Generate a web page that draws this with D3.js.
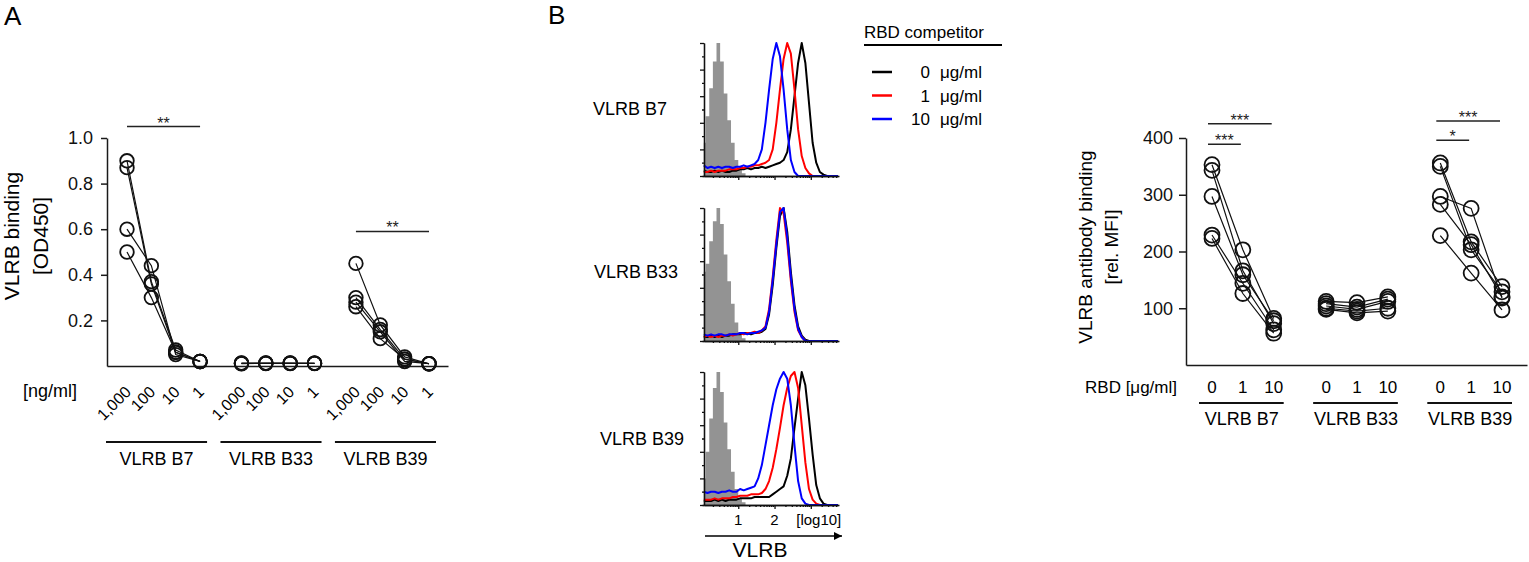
<!DOCTYPE html>
<html>
<head>
<meta charset="utf-8">
<script src="https://cdnjs.cloudflare.com/ajax/libs/d3/7.8.5/d3.min.js"></script>
<style>
    body { margin: 0; background: #fff; }
    svg { display: block; font-family: "Liberation Sans", Arial, sans-serif; }
    .axis path, .axis line { stroke: #1a1a1a; stroke-width: 1.5; }
    .axis text { font-size: 18px; fill: #111; font-family: "Liberation Sans", Arial, sans-serif; }
    .haxis path, .haxis line { stroke: #111; stroke-width: 1.3; }
    .pt { fill: none; stroke: #111; stroke-width: 1.8; }
    .link { fill: none; stroke: #111; stroke-width: 1.2; }
    .sig line { stroke: #222; stroke-width: 1.5; }
    .sig text { font-size: 16px; text-anchor: middle; fill: #222; }
</style>
</head>
<body>
<svg id="fig" width="1529" height="562"></svg>
<script>
// ---- data ----
var groups = ["VLRB B7", "VLRB B33", "VLRB B39"];

// panel A : ELISA, one row per replicate, columns = concentrations
var elisaConc = ["1,000", "100", "10", "1"];
var elisaB7  = [[0.90, 0.37, 0.07, 0.02], [0.87, 0.36, 0.06, 0.02], [0.60, 0.44, 0.05, 0.02], [0.50, 0.30, 0.06, 0.02]];
var elisaB33 = [[0.012, 0.012, 0.012, 0.012], [0.010, 0.013, 0.011, 0.012], [0.013, 0.011, 0.012, 0.011], [0.011, 0.012, 0.013, 0.012]];
var elisaB39 = [[0.45, 0.18, 0.04, 0.01], [0.30, 0.16, 0.03, 0.01], [0.28, 0.15, 0.02, 0.01], [0.26, 0.12, 0.03, 0.01]];
var yTicksA = [0.2, 0.4, 0.6, 0.8, 1.0];
// [group, from, to, label, level]
var sigA = [[0, 0, 3, "**", 1.05], [2, 0, 3, "**", 0.59]];

// panel B : histograms (% of max), bins of log10 fluorescence
var histBins = [0.0, 0.1, 0.2, 0.3, 0.4, 0.5, 0.6, 0.7, 0.8, 0.9, 1.0, 1.1, 1.2, 1.3, 1.4, 1.5, 1.6, 1.7, 1.8, 1.9,
                2.0, 2.1, 2.2, 2.3, 2.4, 2.5, 2.6, 2.7, 2.8, 2.9, 3.0, 3.1, 3.2, 3.3, 3.4, 3.5, 3.6, 3.7];
var greyB7   = [25, 45, 66, 86, 100, 86, 62, 42, 25, 12, 5, 2, 0, 0, 0, 0, 0, 0, 0, 0, 0, 0, 0, 0, 0, 0, 0, 0, 0, 0, 0, 0, 0, 0, 0, 0, 0, 0];
var blackB7  = [4, 3, 3, 4, 3, 4, 3, 3, 4, 4, 5, 5, 6, 5, 6, 6, 7, 6, 7, 8, 9, 10, 12, 18, 35, 60, 85, 100, 85, 55, 25, 10, 3, 1, 0, 0, 0, 0];
var redB7    = [3, 3, 4, 3, 4, 4, 4, 5, 5, 5, 6, 6, 7, 7, 8, 8, 9, 10, 12, 20, 40, 65, 88, 100, 92, 65, 35, 15, 6, 2, 0, 0, 0, 0, 0, 0, 0, 0];
var blueB7   = [8, 6, 7, 6, 7, 6, 7, 7, 6, 7, 7, 8, 7, 8, 9, 12, 20, 40, 65, 88, 100, 90, 65, 35, 12, 3, 0, 0, 0, 0, 0, 0, 0, 0, 0, 0, 0, 0];
var greyB33  = [52, 58, 75, 90, 100, 88, 65, 45, 28, 14, 6, 2, 0, 0, 0, 0, 0, 0, 0, 0, 0, 0, 0, 0, 0, 0, 0, 0, 0, 0, 0, 0, 0, 0, 0, 0, 0, 0];
var blackB33 = [3, 3, 4, 3, 4, 3, 4, 4, 5, 5, 5, 6, 6, 5, 6, 6, 7, 9, 20, 42, 70, 94, 100, 82, 52, 27, 11, 4, 1, 0, 0, 0, 0, 0, 0, 0, 0, 0];
var redB33   = [3, 4, 3, 4, 3, 4, 4, 5, 4, 5, 6, 5, 6, 6, 7, 6, 8, 11, 24, 48, 76, 100, 96, 74, 45, 22, 8, 3, 0, 0, 0, 0, 0, 0, 0, 0, 0, 0];
var blueB33  = [5, 4, 5, 4, 5, 5, 4, 5, 5, 5, 6, 6, 5, 6, 6, 7, 8, 10, 22, 46, 73, 97, 100, 78, 48, 24, 9, 3, 0, 0, 0, 0, 0, 0, 0, 0, 0, 0];
var greyB39  = [20, 40, 65, 88, 100, 85, 62, 42, 25, 12, 5, 2, 0, 0, 0, 0, 0, 0, 0, 0, 0, 0, 0, 0, 0, 0, 0, 0, 0, 0, 0, 0, 0, 0, 0, 0, 0, 0];
var blackB39 = [3, 3, 3, 4, 3, 4, 3, 4, 4, 4, 5, 5, 5, 5, 6, 6, 6, 6, 6, 8, 10, 12, 14, 22, 35, 58, 80, 100, 90, 65, 38, 15, 5, 1, 0, 0, 0, 0];
var redB39   = [4, 4, 4, 5, 4, 5, 5, 5, 6, 6, 7, 7, 7, 8, 8, 8, 9, 12, 18, 28, 42, 58, 75, 88, 97, 100, 88, 60, 32, 12, 4, 1, 0, 0, 0, 0, 0, 0];
var blueB39  = [10, 9, 10, 10, 9, 10, 10, 11, 10, 10, 12, 11, 12, 13, 14, 20, 30, 45, 60, 75, 87, 95, 100, 95, 75, 45, 18, 5, 1, 0, 0, 0, 0, 0, 0, 0, 0, 0];
var competitorDoses = ["0", "1", "10"];
var competitorColors = ["#000000", "#ff0000", "#0000ff"];

// panel C : flow MFI, one row per replicate, columns = RBD dose
var rbdDoses = ["0", "1", "10"];
var mfiB7  = [[353, 203, 82], [343, 166, 73], [297, 159, 78], [229, 144, 62], [223, 126, 56]];
var mfiB33 = [[112, 110, 120], [108, 102, 116], [104, 98, 112], [100, 95, 100], [98, 92, 95]];
var mfiB39 = [[356, 217, 138], [350, 203, 129], [297, 276, 118], [283, 212, 120], [228, 162, 97]];
var yTicksC = [100, 200, 300, 400];
var sigC = [[0, 0, 2, "***", 425], [0, 0, 1, "***", 389], [2, 0, 2, "***", 430], [2, 0, 1, "*", 396]];

// ---- drawing ----
var svg = d3.select("#fig");

svg.append("text").attr("x", 4).attr("y", 25).style("font-size", "26px").text("A");
svg.append("text").attr("x", 548).attr("y", 24).style("font-size", "26px").text("B");

// ===== panel A =====
(function() {
    var elisa = [elisaB7, elisaB33, elisaB39];
    var y = d3.scaleLinear().domain([0, 1]).range([366, 138]);
    var slot = d3.scaleLinear().domain([0, 12.4]).range([127, 429]);
    var px = function(g, j) { return slot(g * 4.7 + j); };
    var g = svg.append("g");

    g.append("g").attr("class", "axis").attr("transform", "translate(107,0)")
        .call(d3.axisLeft(y).tickValues(yTicksA).tickFormat(d3.format(".1f"))
            .tickSize(6).tickPadding(8).tickSizeOuter(0));

    g.append("g").attr("class", "axis").attr("transform", "translate(0,366)")
        .call(d3.axisBottom(d3.scaleLinear().range([107, 448])).tickValues([]).tickSizeOuter(0));

    g.append("text").attr("transform", "translate(19,236) rotate(-90)")
        .attr("text-anchor", "middle").style("font-size", "21px").text("VLRB binding");
    g.append("text").attr("transform", "translate(48,236) rotate(-90)")
        .attr("text-anchor", "middle").style("font-size", "21px").text("[OD450]");

    elisa.forEach(function(rows, gi) {
        var line = d3.line().x(function(d, j) { return px(gi, j); }).y(function(d) { return y(d); });
        g.selectAll(null).data(rows).enter().append("path")
            .attr("class", "link").attr("d", line);
        rows.forEach(function(row) {
            g.selectAll(null).data(row).enter().append("circle")
                .attr("class", "pt").attr("r", 6.8)
                .attr("cx", function(d, j) { return px(gi, j); })
                .attr("cy", function(d) { return y(d); });
        });

        elisaConc.forEach(function(c, j) {
            g.append("text").attr("text-anchor", "end")
                .attr("transform", "translate(" + (px(gi, j) + 5) + ",393) rotate(-45)")
                .style("font-size", "16px").text(c);
        });

        g.append("line").attr("x1", px(gi, 0) - 21).attr("x2", px(gi, 3) + 7)
            .attr("y1", 442).attr("y2", 442).attr("stroke", "#111").attr("stroke-width", 2);
        g.append("text").attr("x", (px(gi, 0) + px(gi, 3)) / 2 - 7).attr("y", 465)
            .attr("text-anchor", "middle").style("font-size", "18px").text(groups[gi]);
    });

    g.append("text").attr("x", 23).attr("y", 397).style("font-size", "18px").text("[ng/ml]");

    sigA.forEach(function(s) {
        var sg = g.append("g").attr("class", "sig");
        var x1 = px(s[0], s[1]), x2 = px(s[0], s[2]);
        sg.append("line").attr("x1", x1).attr("x2", x2).attr("y1", y(s[4])).attr("y2", y(s[4]));
        sg.append("text").attr("x", (x1 + x2) / 2).attr("y", y(s[4]) + 2).text(s[3]);
    });
})();

// ===== panel B =====
(function() {
    var hists = [
        [greyB7, blackB7, redB7, blueB7],
        [greyB33, blackB33, redB33, blueB33],
        [greyB39, blackB39, redB39, blueB39]
    ];
    var tops = [43, 208, 372];
    var labelPos = [[667, 115], [678, 278], [684, 445]];
    var h = 133;
    var x = d3.scaleLinear().domain([0, 3.75]).range([702, 838]);
    var half = 0.05;

    var minor = [];
    [0, 1, 2, 3].forEach(function(dec) {
        [2, 3, 4, 5, 6, 7, 8, 9].forEach(function(k) {
            var v = dec + Math.log10(k);
            if (v < 3.75) minor.push(v);
        });
    });

    hists.forEach(function(set, pi) {
        var top = tops[pi];
        var y = d3.scaleLinear().domain([0, 100]).range([top + h, top]);
        var g = svg.append("g");

        g.append("path")
            .attr("fill", "#939393")
            .attr("d", d3.area().curve(d3.curveStep)
                .x(function(d, i) { return x(histBins[i] + half); })
                .y0(y(0)).y1(function(d) { return y(d); })(set[0]));

        [1, 2, 3].forEach(function(k) {
            g.append("path")
                .attr("fill", "none").attr("stroke", competitorColors[k - 1]).attr("stroke-width", 2)
                .attr("stroke-linejoin", "round")
                .attr("d", d3.line()
                    .x(function(d, i) { return x(histBins[i] + half); })
                    .y(function(d) { return y(d); })(set[k]));
        });

        g.append("g").attr("class", "haxis").attr("transform", "translate(704,0)")
            .call(d3.axisLeft(y).tickValues([0, 20, 40, 60, 80, 100]).tickFormat("").tickSize(4).tickSizeOuter(0));
        g.append("g").attr("class", "haxis").attr("transform", "translate(704,0)")
            .call(d3.axisLeft(y).tickValues([10, 30, 50, 70, 90]).tickFormat("").tickSize(2).tickSizeOuter(0));
        g.append("g").attr("class", "haxis").attr("transform", "translate(0," + (top + h) + ")")
            .call(d3.axisBottom(x.copy().range([704, 839]).domain([x.invert(704), x.invert(839)]))
                .tickValues([1, 2, 3]).tickFormat("").tickSize(4).tickSizeOuter(0));
        g.append("g").attr("class", "haxis").attr("transform", "translate(0," + (top + h) + ")")
            .call(d3.axisBottom(x).tickValues(minor.filter(function(v) { return x(v) > 705; }))
                .tickFormat("").tickSize(2).tickSizeOuter(0));

        g.append("text").attr("x", labelPos[pi][0]).attr("y", labelPos[pi][1])
            .attr("text-anchor", "end").style("font-size", "18px").text(groups[pi]);

        if (pi === 2) {
            [1, 2].forEach(function(v) {
                g.append("text").attr("x", x(v)).attr("y", top + h + 20)
                    .attr("text-anchor", "middle").style("font-size", "15px").text(v);
            });
            g.append("text").attr("x", x(3.22)).attr("y", top + h + 20)
                .attr("text-anchor", "middle").style("font-size", "15px").text("[log10]");
        }
    });

    var defs = svg.append("defs");
    defs.append("marker").attr("id", "arrowhead").attr("viewBox", "0 0 10 10")
        .attr("refX", 10).attr("refY", 5).attr("markerWidth", 14).attr("markerHeight", 8)
        .attr("markerUnits", "userSpaceOnUse").attr("orient", "auto")
        .append("path").attr("d", "M0,0 L10,5 L0,10 Z").attr("fill", "#000");

    svg.append("line").attr("x1", 705).attr("x2", 842).attr("y1", 536).attr("y2", 536)
        .attr("stroke", "#000").attr("stroke-width", 1.6).attr("marker-end", "url(#arrowhead)");
    svg.append("text").attr("x", 760).attr("y", 557).attr("text-anchor", "middle")
        .style("font-size", "21px").text("VLRB");

    // legend
    var lg = svg.append("g");
    lg.append("text").attr("x", 864).attr("y", 38).style("font-size", "17px").text("RBD competitor");
    lg.append("line").attr("x1", 864).attr("x2", 1002).attr("y1", 45).attr("y2", 45)
        .attr("stroke", "#000").attr("stroke-width", 2);
    competitorDoses.forEach(function(d, i) {
        var yy = 72 + i * 23.5;
        lg.append("line").attr("x1", 872).attr("x2", 892).attr("y1", yy).attr("y2", yy)
            .attr("stroke", competitorColors[i]).attr("stroke-width", 2.5);
        lg.append("text").attr("x", 930).attr("y", yy + 6).attr("text-anchor", "end")
            .style("font-size", "17px").text(d);
        lg.append("text").attr("x", 940).attr("y", yy + 6)
            .style("font-size", "17px").text("\u03bcg/ml");
    });
})();

// ===== panel C =====
(function() {
    var mfi = [mfiB7, mfiB33, mfiB39];
    var y = d3.scaleLinear().domain([0, 400]).range([365, 138]);
    var slot = d3.scaleLinear().domain([0, 9.4]).range([1212, 1502]);
    var px = function(g, j) { return slot(g * 3.7 + j); };
    var g = svg.append("g");

    g.append("g").attr("class", "axis").attr("transform", "translate(1186,0)")
        .call(d3.axisLeft(y).tickValues(yTicksC).tickSize(7).tickPadding(6).tickSizeOuter(0));
    g.append("g").attr("class", "axis").attr("transform", "translate(0,365)")
        .call(d3.axisBottom(d3.scaleLinear().range([1186, 1527])).tickValues([]).tickSizeOuter(0));

    g.append("text").attr("transform", "translate(1092,247) rotate(-90)")
        .attr("text-anchor", "middle").style("font-size", "19px").text("VLRB antibody binding");
    g.append("text").attr("transform", "translate(1118,247) rotate(-90)")
        .attr("text-anchor", "middle").style("font-size", "19px").text("[rel. MFI]");

    mfi.forEach(function(rows, gi) {
        var line = d3.line().x(function(d, j) { return px(gi, j); }).y(function(d) { return y(d); });
        g.selectAll(null).data(rows).enter().append("path")
            .attr("class", "link").attr("d", line);
        rows.forEach(function(row) {
            g.selectAll(null).data(row).enter().append("circle")
                .attr("class", "pt").attr("r", 7.5)
                .attr("cx", function(d, j) { return px(gi, j); })
                .attr("cy", function(d) { return y(d); });
        });

        rbdDoses.forEach(function(d, j) {
            g.append("text").attr("x", px(gi, j)).attr("y", 393).attr("text-anchor", "middle")
                .style("font-size", "17px").text(d);
        });
        g.append("line").attr("x1", px(gi, 0) - 13).attr("x2", px(gi, 2) + 10)
            .attr("y1", 403).attr("y2", 403).attr("stroke", "#111").attr("stroke-width", 1.8);
        g.append("text").attr("x", (px(gi, 0) + px(gi, 2)) / 2 - 1).attr("y", 425)
            .attr("text-anchor", "middle").style("font-size", "18px").text(groups[gi]);
    });

    g.append("text").attr("x", 1177).attr("y", 393).attr("text-anchor", "end")
        .style("font-size", "17px").text("RBD [\u03bcg/ml]");

    sigC.forEach(function(s) {
        var sg = g.append("g").attr("class", "sig");
        var x1 = px(s[0], s[1]) - 4, x2 = px(s[0], s[2]) - 2;
        sg.append("line").attr("x1", x1).attr("x2", x2).attr("y1", y(s[4])).attr("y2", y(s[4]));
        sg.append("text").attr("x", (x1 + x2) / 2).attr("y", y(s[4]) + 2).text(s[3]);
    });
})();
</script>
</body>
</html>
